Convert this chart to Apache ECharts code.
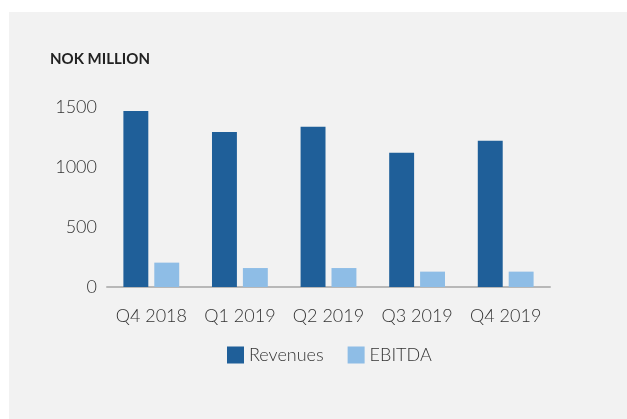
<!DOCTYPE html>
<html><head><meta charset="utf-8">
<script src="https://cdn.jsdelivr.net/npm/echarts@6/dist/echarts.min.js"></script>
<style>html,body{margin:0;padding:0;background:#fff;}#panel{position:absolute;left:9px;top:12px;right:0;bottom:0;background:#f2f2f2;}#c{position:absolute;left:0;top:0;width:627px;height:419px;}</style>
</head><body><div id="panel"></div><div id="c"></div>
<script>
const categories = ['Q4 2018', 'Q1 2019', 'Q2 2019', 'Q3 2019', 'Q4 2019'];
const revenues = [1467, 1292, 1336, 1119, 1219];
const ebitda = [203, 158, 158, 128, 128];
const seriesNames = ['Revenues', 'EBITDA'];
const chart = echarts.init(document.getElementById('c'), null, {renderer: 'canvas'});
const font = 'Lato';
chart.setOption({
  backgroundColor: 'transparent',
  animation: false,
  title: {text: 'NOK MILLION', left: 45, top: 47, textStyle: {fontFamily: font, fontSize: 15, fontWeight: 'bold', color: '#222'}},
  legend: {data: seriesNames, bottom: 50, left: 222, itemWidth: 17, itemHeight: 17, itemGap: 24,
    textStyle: {fontFamily: font, fontSize: 18, fontWeight: 300, color: '#333'}, icon: 'rect'},
  grid: {left: 107, right: 77, top: 107, bottom: 132},
  xAxis: {type: 'category', data: categories,
    axisLine: {lineStyle: {color: '#b8b8b8', width: 2}}, axisTick: {show: false},
    axisLabel: {interval: 0, fontFamily: font, fontSize: 18, fontWeight: 300, color: '#333', margin: 20}},
  yAxis: {type: 'value', min: 0, max: 1500, interval: 500,
    axisLine: {show: false}, axisTick: {show: false}, splitLine: {show: false},
    axisLabel: {fontFamily: font, fontSize: 18, fontWeight: 300, color: '#333', margin: 10, formatter: v => String(v)}},
  series: [
    {name: seriesNames[0], type: 'bar', data: revenues, itemStyle: {color: '#1f5f99'}, barGap: '24%', barCategoryGap: '37%'},
    {name: seriesNames[1], type: 'bar', data: ebitda, itemStyle: {color: '#8ebde6'}}
  ]
});
</script></body></html>
